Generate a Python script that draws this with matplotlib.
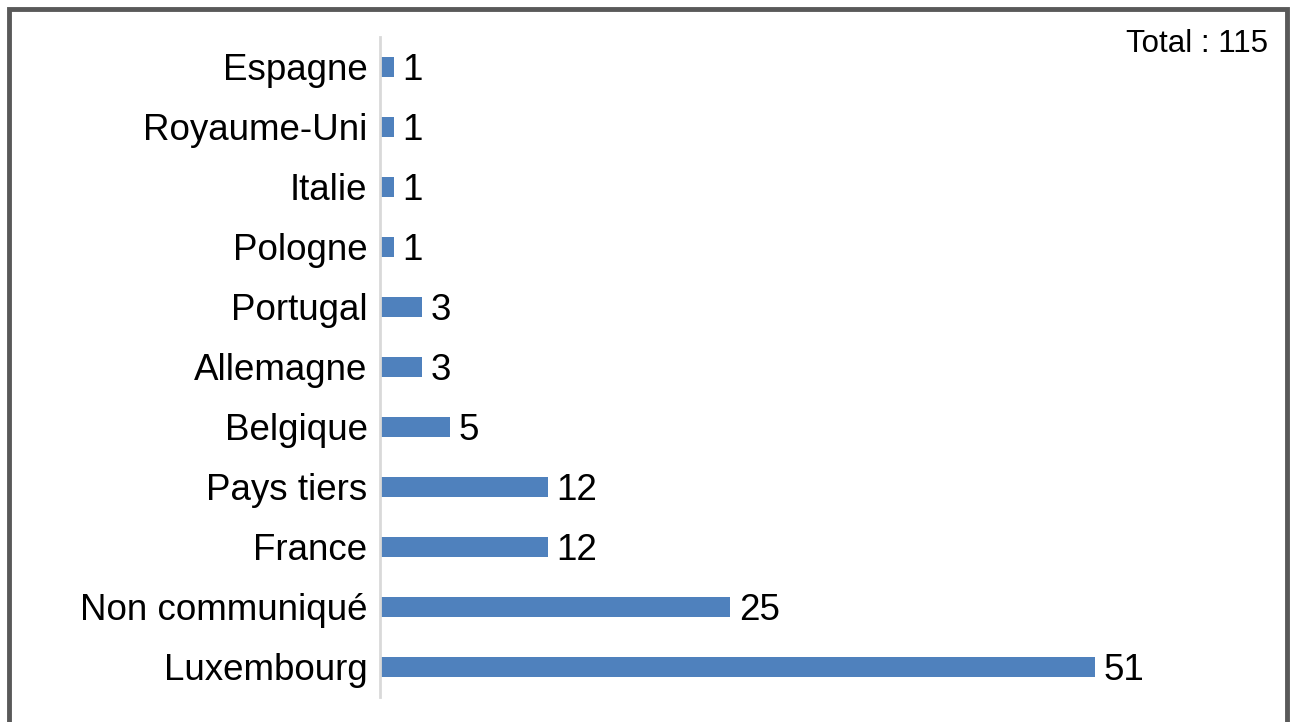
import matplotlib.pyplot as plt
from matplotlib.patches import Rectangle

plt.rcParams['font.family'] = ['Liberation Sans', 'DejaVu Sans']

pays = ['Luxembourg', 'Non communiqué', 'France', 'Pays tiers', 'Belgique',
        'Allemagne', 'Portugal', 'Pologne', 'Italie', 'Royaume-Uni', 'Espagne']
nombre = [51, 25, 12, 12, 5, 3, 3, 1, 1, 1, 1]
total = 115

W, H = 1290, 722
fig = plt.figure(figsize=(W / 100, H / 100), dpi=100)
ax = fig.add_axes([380 / W, 1 - 697 / H, (1221 - 380) / W, (697 - 37) / H])

ax.barh(range(len(pays)), nombre, height=0.34, color='#4F81BD')
ax.set_ylim(-0.5, len(pays) - 0.5)
ax.set_xlim(0, 60)
ax.set_yticks(range(len(pays)))
ax.set_yticklabels(pays, fontsize=26.5)
ax.tick_params(axis='y', length=0, pad=9)
ax.set_xticks([])
for s in ['top', 'right', 'bottom']:
    ax.spines[s].set_visible(False)
ax.spines['left'].set_color('#d9d9d9')
ax.spines['left'].set_linewidth(2)

for i, v in enumerate(nombre):
    ax.annotate(str(v), (v, i), xytext=(6, 0), textcoords='offset points',
                va='center_baseline', ha='left', fontsize=26.5)

fig.text(1268 / W, 1 - 40 / H, 'Total : ' + str(total), ha='right',
         va='center_baseline', fontsize=22.5)

# cadre gris
fig.patches.append(Rectangle((9 / W, -0.05), (1287 - 9) / W, 1.05 - 9 / H,
                             transform=fig.transFigure, fill=False,
                             edgecolor='#595959', linewidth=3.5))

fig.savefig('out.png', dpi=100)
